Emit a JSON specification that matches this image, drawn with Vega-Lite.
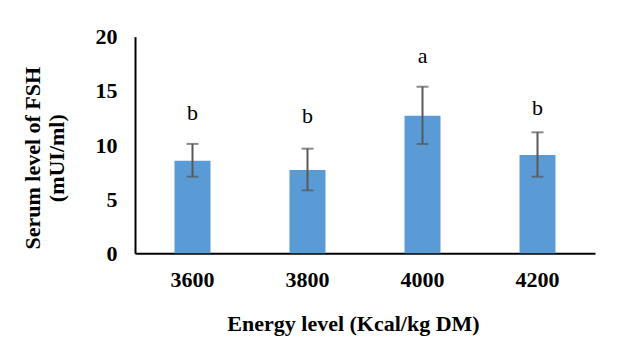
{
  "$schema": "https://vega.github.io/schema/vega-lite/v6.json",
  "autosize": "none",
  "width": 460,
  "height": 216.6,
  "padding": {"left": 135, "top": 36.7, "right": 25, "bottom": 100.7},
  "background": "white",
  "config": {
    "view": {"stroke": null},
    "font": "Liberation Serif",
    "axis": {"grid": false, "ticks": false, "domainColor": "black", "domainWidth": 2, "labelFont": "Liberation Serif", "labelFontWeight": "bold", "labelFontSize": 22, "labelColor": "black", "titleFont": "Liberation Serif", "titleFontWeight": "bold", "titleFontSize": 22, "titleColor": "black"}
  },
  "data": {
    "values": [
      {"energy": "3600", "fsh": 8.55, "lo": 7.07, "hi": 10.1, "letter": "b", "lpos": 12.3},
      {"energy": "3800", "fsh": 7.69, "lo": 5.81, "hi": 9.66, "letter": "b", "lpos": 12.0},
      {"energy": "4000", "fsh": 12.71, "lo": 10.09, "hi": 15.38, "letter": "a", "lpos": 17.55},
      {"energy": "4200", "fsh": 9.08, "lo": 7.07, "hi": 11.17, "letter": "b", "lpos": 12.77}
    ]
  },
  "encoding": {
    "x": {
      "field": "energy", "type": "nominal", "sort": null,
      "scale": {"paddingInner": 0.687, "paddingOuter": 0.3435},
      "axis": {"labelAngle": 0, "labelPadding": 16, "title": "Energy level (Kcal/kg DM)", "titleX": 218, "titleY": 60, "titleBaseline": "top", "titleAlign": "center"}
    }
  },
  "layer": [
    {
      "mark": {"type": "bar", "color": "#5B9BD5"},
      "encoding": {
        "y": {
          "field": "fsh", "type": "quantitative",
          "scale": {"domain": [0, 20], "nice": false},
          "axis": {"values": [0, 5, 10, 15, 20], "labelPadding": 18, "title": ["Serum level of FSH", "(mUI/ml)"], "titleAngle": -90, "titleX": -113, "titleY": 121, "titleBaseline": "top", "titleAlign": "center", "titleLineHeight": 24}
        }
      }
    },
    {
      "mark": {"type": "rule", "color": "#595959", "strokeWidth": 2},
      "encoding": {"y": {"field": "lo", "type": "quantitative"}, "y2": {"field": "hi"}}
    },
    {
      "mark": {"type": "tick", "color": "#595959", "thickness": 2, "size": 12},
      "encoding": {"y": {"field": "lo", "type": "quantitative"}}
    },
    {
      "mark": {"type": "tick", "color": "#595959", "thickness": 2, "size": 12},
      "encoding": {"y": {"field": "hi", "type": "quantitative"}}
    },
    {
      "mark": {"type": "text", "font": "Liberation Serif", "fontSize": 22, "color": "black", "baseline": "alphabetic"},
      "encoding": {"y": {"field": "lpos", "type": "quantitative"}, "text": {"field": "letter"}}
    }
  ]
}
